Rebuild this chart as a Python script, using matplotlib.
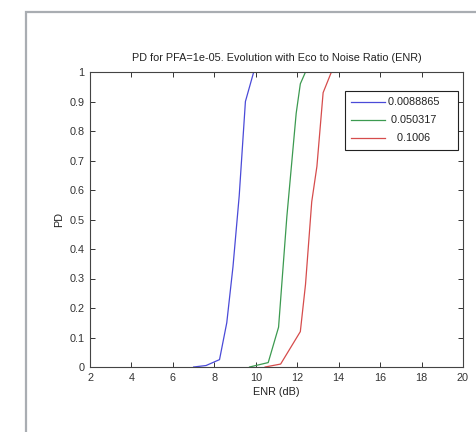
import matplotlib
matplotlib.use('Agg')
import matplotlib.pyplot as plt
from matplotlib.patches import Rectangle

# -----------------------------------------
# DATOS
# -----------------------------------------
enr_azul = [7.0, 7.6, 8.25, 8.6, 8.9, 9.2, 9.5, 9.9]
pd_azul = [0.0, 0.005, 0.025, 0.15, 0.34, 0.58, 0.9, 1.0]

enr_verde = [9.7, 10.6, 11.1, 11.5, 11.95, 12.15, 12.4]
pd_verde = [0.0, 0.015, 0.135, 0.51, 0.86, 0.96, 1.0]

enr_rojo = [10.45, 11.2, 12.15, 12.4, 12.7, 12.95, 13.25, 13.65]
pd_rojo = [0.0, 0.01, 0.12, 0.28, 0.56, 0.68, 0.93, 1.0]

etiquetas = ['0.0088865', '0.050317', '0.1006']
xticks = [2, 4, 6, 8, 10, 12, 14, 16, 18, 20]
yticks = [0, 0.1, 0.2, 0.3, 0.4, 0.5, 0.6, 0.7, 0.8, 0.9, 1]

FS = 7.8
plt.rcParams['font.family'] = ['Liberation Sans', 'DejaVu Sans']
plt.rcParams['font.size'] = FS

fig = plt.figure(figsize=(4.77, 4.32), dpi=100)
fig.patch.set_facecolor('white')

# marco gris de la ventana
fig.add_artist(Rectangle((26.5/477, -0.1), 2.0, 1.0 - 12/432 + 0.1,
                         transform=fig.transFigure, fill=False,
                         edgecolor='#a9adb2', linewidth=1.6))

ax = fig.add_axes([90/477, 65/432, 373/477, 295/432])

ax.plot(enr_azul, pd_azul, color='#4a4ad8', linewidth=0.9)
ax.plot(enr_verde, pd_verde, color='#3c9a50', linewidth=0.9)
ax.plot(enr_rojo, pd_rojo, color='#d64c4c', linewidth=0.9)

ax.set_xlim(2, 20)
ax.set_ylim(0, 1)
ax.set_xticks(xticks)
ax.set_yticks(yticks)
ax.set_xticklabels([str(t) for t in xticks])
ax.set_yticklabels(['0'] + [f'{t:g}' for t in yticks[1:]])

ax.tick_params(direction='in', length=3.5, width=0.7, top=True, right=True,
               colors='#333333', labelcolor='#333333', labelsize=FS)
ax.tick_params(axis='x', pad=4)
ax.tick_params(axis='y', pad=4)
for sp in ax.spines.values():
    sp.set_color('#444444')
    sp.set_linewidth(0.8)

ax.set_title("PD for PFA=1e-05. Evolution with Eco to Noise Ratio (ENR)",
             fontsize=FS, color='#222222', pad=8)
ax.set_xlabel("ENR (dB)", fontsize=FS, color='#222222', labelpad=3)
ax.set_ylabel("PD", fontsize=FS, color='#222222', labelpad=4)

# etiquetas centradas como en la leyenda original
textos = [etiquetas[0] + '    ', ' ' + etiquetas[1], '   ' + etiquetas[2]]
leg = ax.legend(ax.get_lines(), textos, loc='upper right',
                bbox_to_anchor=(0.987, 0.936), borderaxespad=0,
                fancybox=False, framealpha=1, edgecolor='#222222',
                handlelength=3.1, handletextpad=0.3, labelspacing=0.74,
                borderpad=0.6, fontsize=FS)
leg.get_frame().set_linewidth(0.8)
for t in leg.get_texts():
    t.set_color('#222222')

fig.savefig('out.png', dpi=100, facecolor='white')
